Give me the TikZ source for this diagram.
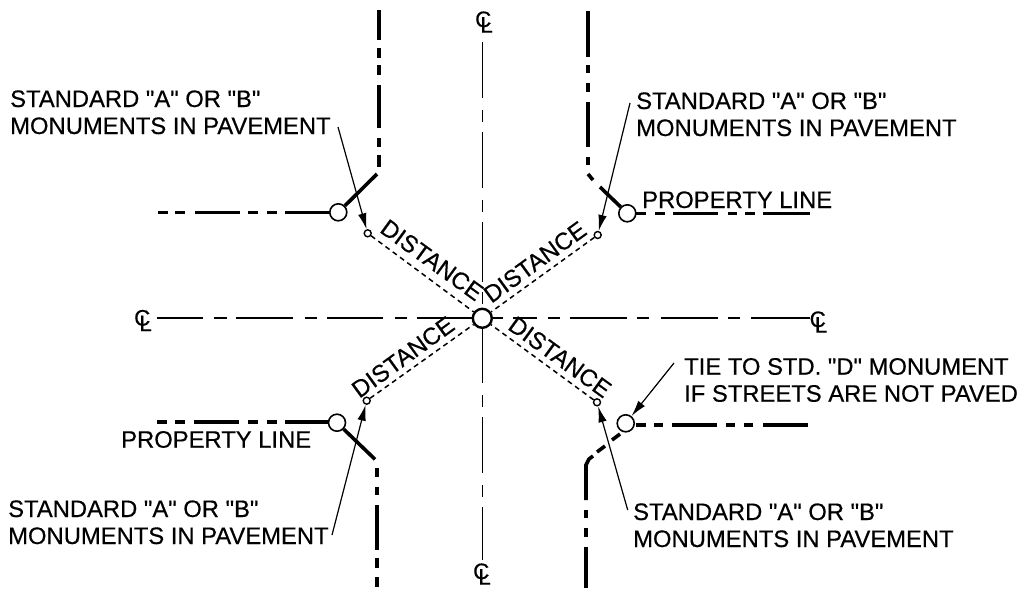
\documentclass[tikz,border=0pt]{standalone}
\usepackage{fontspec}
\setmainfont[Ligatures=TeXOff,FakeBold=0.45]{Liberation Sans}
\usetikzlibrary{arrows.meta}
\newcommand{\clsym}{\mbox{\raisebox{5.5pt}{C}\hspace{-11pt}L}}
\tikzset{
  lbl/.style={inner sep=0pt,anchor=base west,align=left,font=\fontsize{23.8}{27}\selectfont},
  dist/.style={inner sep=0pt,font=\fontsize{24}{25}\selectfont},
  clmark/.style={inner sep=0pt,font=\fontsize{22.5}{25}\selectfont},
  cline/.style={line width=1.6pt},
  heavy/.style={line width=3.6pt},
  tiedash/.style={line width=1.5pt,dash pattern=on 5pt off 4pt},
  leader/.style={line width=1.2pt,-{Latex[length=16pt,width=8.5pt]}},
  corner/.style={circle,draw,fill=white,line width=1.6pt,minimum size=17pt,inner sep=0pt},
  mono/.style={circle,draw,fill=white,line width=1.4pt,minimum size=7pt,inner sep=0pt},
  hub/.style={circle,draw,fill=white,line width=2.4pt,minimum size=19pt,inner sep=0pt}
}
\begin{document}
\begin{tikzpicture}[x=1pt,y=-1pt]
\useasboundingbox (0,0) rectangle (1031,589);
% centre lines
\foreach \a/\b in {42/98,110/122,132/188,200/212,222/282,292/304,314/383,395/407,417/473,485/497,507/560}
  \draw[cline] (482.5,\a) -- (482.5,\b);
\foreach \a/\b in {157/203,214/227,236/293,305/317,327/383,395/407,417/492,492/503,513/537,548/560,570/627,637/649,661/718,728/740,751/810}
  \draw[cline] (\a,318) -- (\b,318);
\node[clmark] (clT) at (484,22) {\clsym};
\node[clmark] (clB) at (482,574) {\clsym};
\node[clmark] (clL) at (143,320.5) {\clsym};
\node[clmark] (clR) at (818.5,322) {\clsym};
% nodes
\node[hub] (c) at (482.3,318.3) {};
\node[corner] (cTL) at (338.3,212.3) {};
\node[corner] (cTR) at (627.3,213.3) {};
\node[corner] (cBL) at (337,422.7) {};
\node[corner] (cBR) at (625.7,423.3) {};
\node[mono] (mTL) at (367.7,233.3) {};
\node[mono] (mTR) at (597.7,235) {};
\node[mono] (mBL) at (366.7,400.7) {};
\node[mono] (mBR) at (597,402.3) {};
% ties
\draw[tiedash] (mTL) -- (c);
\draw[tiedash] (mTR) -- (c);
\draw[tiedash] (mBL) -- (c);
\draw[tiedash] (mBR) -- (c);
% distance labels
\node[dist,rotate=-36] (dTL) at (432,260) {DISTANCE};
\node[dist,rotate=36] (dTR) at (535,262) {DISTANCE};
\node[dist,rotate=36] (dBL) at (403,357) {DISTANCE};
\node[dist,rotate=-36] (dBR) at (560,357) {DISTANCE};
% property lines, top left
\foreach \a/\b in {158/168,175/185,195/240,248/258,267/277,285/330}
  \draw[heavy] (\a,212.3) -- (\b,212.3);
\draw[heavy] (cTL) -- (377,174);
\foreach \a/\b in {10/40,48/58,65/75,85/128,138/147,155/167}
  \draw[heavy] (379,\a) -- (379,\b);
% top right
\foreach \a/\b in {636/646,655/665,673/718,728/737,745/755,763/810}
  \draw[heavy] (\a,213.5) -- (\b,213.5);
\draw[heavy] (cTR) -- (600,187);
\draw[heavy] (593,180) -- (588,174);
\foreach \a/\b in {11/57,65/73,83/92,102/147,157/165}
  \draw[heavy] (588,\a) -- (588,\b);
% bottom left
\foreach \a/\b in {157/167,175/185,194/239,248/258,267/277,285/329}
  \draw[heavy] (\a,421.7) -- (\b,421.7);
\draw[heavy] (cBL) -- (375,459.3);
\foreach \a/\b in {468/477,487/495,505/550,558/568,577/587}
  \draw[heavy] (376.7,\a) -- (376.7,\b);
% bottom right
\foreach \a/\b in {636/646,654/663,672/717,726/735,744/753,763/808}
  \draw[heavy] (\a,424.7) -- (\b,424.7);
\draw[heavy] (620,434) -- (612,440);
\draw[heavy] (605,446) -- (597,452);
\draw[heavy] (593,456) -- (589,459) -- (586,465) -- (586,500);
\foreach \a/\b in {510/518,528/537,547/588}
  \draw[heavy] (586,\a) -- (586,\b);
% leaders
\coordinate (lTL) at (338,127);
\coordinate (lTR) at (630,103);
\coordinate (lBL) at (332,535);
\coordinate (lBR) at (627.7,510);
\coordinate (lTie) at (674,363);
\draw[leader] (lTL) -- (mTL);
\draw[leader] (lTR) -- (mTR);
\draw[leader] (lBL) -- (mBL);
\draw[leader] (lBR) -- (mBR);
\draw[leader] (lTie) -- (cBR);
% text
\node[lbl] (tTL) at (10,134) {STANDARD "A" OR "B"\\MONUMENTS IN PAVEMENT};
\node[lbl] (tTR) at (636,136) {STANDARD "A" OR "B"\\MONUMENTS IN PAVEMENT};
\node[lbl] (tBL) at (8,544) {STANDARD "A" OR "B"\\MONUMENTS IN PAVEMENT};
\node[lbl] (tBR) at (633,547) {STANDARD "A" OR "B"\\MONUMENTS IN PAVEMENT};
\node[lbl] (tTie) at (684,401.7) {TIE TO STD. "D" MONUMENT\\IF STREETS ARE NOT PAVED};
\node[lbl] (pTR) at (642,208) {PROPERTY LINE};
\node[lbl] (pBL) at (121,447.7) {PROPERTY LINE};
\end{tikzpicture}
\end{document}
